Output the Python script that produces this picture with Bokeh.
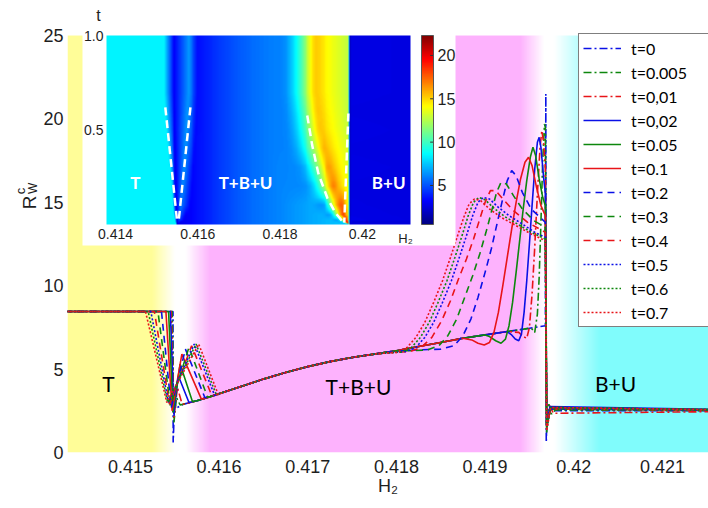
import numpy as np
from bokeh.plotting import figure
from bokeh.layouts import row
from bokeh.models import Range1d, FixedTicker, Legend, LegendItem, LinearColorMapper
from bokeh.core.properties import value
from bokeh.embed import file_html
from bokeh.resources import INLINE

# ---------------------------------------------------------------- data
T_VALUES = [0.0, 0.005, 0.01, 0.02, 0.05, 0.1, 0.2, 0.3, 0.4, 0.5, 0.6, 0.7]
T_LABELS = ["t=0", "t=0.005", "t=0,01", "t=0,02", "t=0.05", "t=0.1",
            "t=0.2", "t=0.3", "t=0.4", "t=0.5", "t=0.6", "t=0.7"]

# branch shared by all profiles inside T+B+U
H2_MID = [0.41560, 0.41575, 0.41590, 0.41610, 0.41630, 0.41650, 0.41675, 0.41700,
          0.41725, 0.41750, 0.41775, 0.41800, 0.41825, 0.41850, 0.41875, 0.41900,
          0.41925, 0.41950, 0.41968]
R_MID = [2.9, 3.1, 3.35, 3.7, 4.05, 4.4, 4.8, 5.15, 5.45, 5.7, 5.9, 6.1, 6.35,
         6.6, 6.85, 7.05, 7.25, 7.45, 7.6]

# T plateau and the T / T+B+U transition, one list per instant
LEFT_H2 = [
    [0.4140, 0.41548, 0.415482, 0.415495],
    [0.4140, 0.41547, 0.41549, 0.41552, 0.41556],
    [0.4140, 0.41546, 0.41549, 0.41553, 0.41558],
    [0.4140, 0.41545, 0.41549, 0.41554, 0.41566],
    [0.4140, 0.41543, 0.41548, 0.41556, 0.41570],
    [0.4140, 0.41540, 0.41547, 0.41558, 0.41580],
    [0.4140, 0.41535, 0.41546, 0.41562, 0.41584],
    [0.4140, 0.41531, 0.41545, 0.41566, 0.41587],
    [0.4140, 0.41527, 0.41544, 0.41569, 0.41592],
    [0.4140, 0.41523, 0.41543, 0.41572, 0.41595],
    [0.4140, 0.41520, 0.41542, 0.41574, 0.41597],
    [0.4140, 0.41517, 0.41541, 0.41577, 0.41599],
]
LEFT_R = [
    [8.45, 8.45, 0.6, 2.6],
    [8.45, 8.45, 1.8, 3.3, 2.85],
    [8.45, 8.45, 2.1, 3.9, 2.95],
    [8.45, 8.45, 2.3, 4.6, 3.0],
    [8.45, 8.45, 2.4, 5.3, 3.05],
    [8.45, 8.45, 2.5, 5.9, 3.2],
    [8.45, 8.45, 2.7, 6.2, 3.28],
    [8.45, 8.45, 2.8, 6.3, 3.32],
    [8.45, 8.45, 2.9, 6.4, 3.38],
    [8.45, 8.45, 3.0, 6.5, 3.42],
    [8.45, 8.45, 3.0, 6.5, 3.45],
    [8.45, 8.45, 3.0, 6.5, 3.48],
]

# peak near the T+B+U / B+U boundary and the B+U plateau, one list per instant
RIGHT_H2 = [
    [0.419685, 0.41969, 0.41970, 0.4225],
    [0.41953, 0.41956, 0.41959, 0.41961, 0.41963, 0.41965, 0.41967, 0.41968,
     0.419695, 0.41972, 0.41975, 0.41979, 0.4225],
    [0.41938, 0.41943, 0.41947, 0.41950, 0.41953, 0.41956, 0.41959, 0.41962, 0.41964,
     0.41966, 0.41968, 0.419695, 0.41973, 0.41977, 0.4225],
    [0.41930, 0.41934, 0.41938, 0.41941, 0.41944, 0.41947, 0.41950, 0.41953, 0.41956,
     0.41959, 0.41961, 0.41963, 0.41966, 0.41968, 0.419695, 0.41973, 0.4225],
    [0.41905, 0.41912, 0.41918, 0.41923, 0.41927, 0.41931, 0.41935, 0.41939, 0.41943,
     0.41947, 0.41951, 0.41954, 0.41957, 0.41961, 0.41965, 0.41968, 0.419695, 0.41974, 0.4225],
    [0.41885, 0.41892, 0.41899, 0.41905, 0.41910, 0.41915, 0.41920, 0.41925, 0.41930,
     0.41935, 0.41940, 0.41945, 0.41949, 0.41953, 0.41958, 0.41963, 0.41968,
     0.419695, 0.41974, 0.4225],
    [0.41825, 0.41850, 0.41865, 0.41875, 0.41884, 0.41892, 0.41900, 0.41907, 0.41913,
     0.41919, 0.41925, 0.41930, 0.41935, 0.41942, 0.41952, 0.41968, 0.419695, 0.41974, 0.4225],
    [0.41815, 0.41835, 0.41848, 0.41858, 0.41868, 0.41877, 0.41886, 0.41894, 0.41901,
     0.41907, 0.41913, 0.41918, 0.41924, 0.41932, 0.41942, 0.41955, 0.41968,
     0.419695, 0.41974, 0.4225],
    [0.41795, 0.41815, 0.41828, 0.41840, 0.41851, 0.41861, 0.41870, 0.41879, 0.41887,
     0.41894, 0.41900, 0.41906, 0.41912, 0.41920, 0.41932, 0.41948, 0.41968,
     0.419695, 0.41974, 0.4225],
    [0.41795, 0.41810, 0.41822, 0.41832, 0.41842, 0.41852, 0.41862, 0.41871, 0.41879,
     0.41886, 0.41892, 0.41898, 0.41905, 0.41915, 0.41927, 0.41942, 0.41956, 0.41968,
     0.419695, 0.41974, 0.4225],
    [0.41790, 0.41805, 0.41817, 0.41827, 0.41837, 0.41847, 0.41857, 0.41866, 0.41874,
     0.41881, 0.41887, 0.41893, 0.41900, 0.41910, 0.41922, 0.41938, 0.41954, 0.41968,
     0.419695, 0.41974, 0.4225],
    [0.41785, 0.41800, 0.41812, 0.41822, 0.41832, 0.41842, 0.41852, 0.41861, 0.41869,
     0.41876, 0.41882, 0.41888, 0.41895, 0.41905, 0.41918, 0.41935, 0.41952, 0.41968,
     0.419695, 0.41974, 0.4225],
]
RIGHT_R = [
    [21.5, 0.6, 2.5, 2.5],
    [7.4, 7.2, 8.3, 10.5, 13.8, 17.5, 19.7, 19.5, 1.2, 2.9, 2.3, 2.55, 2.5],
    [7.2, 6.95, 6.85, 7.5, 9.5, 12.3, 15.5, 18.3, 19.3, 18.6, 17.0, 1.4, 2.8, 2.35, 2.5],
    [7.05, 6.8, 6.7, 7.1, 8.4, 10.3, 12.5, 14.8, 17.0, 18.6, 18.9, 18.3, 16.5, 15.5,
     1.6, 2.75, 2.5],
    [6.95, 6.7, 6.55, 6.8, 7.6, 9.0, 10.8, 12.7, 14.6, 16.3, 17.7, 18.3, 17.8, 16.4,
     15.3, 14.8, 1.5, 2.7, 2.5],
    [6.75, 6.55, 6.45, 6.6, 7.2, 8.4, 10.0, 11.7, 13.4, 15.0, 16.4, 17.4, 17.7, 17.2,
     15.9, 14.8, 14.2, 1.7, 2.65, 2.5],
    [6.15, 6.2, 6.4, 7.0, 8.0, 9.3, 10.8, 12.2, 13.6, 15.0, 16.3, 16.9, 16.6, 15.6,
     14.6, 13.8, 1.8, 2.6, 2.5],
    [6.1, 6.15, 6.4, 7.0, 8.0, 9.3, 10.6, 11.9, 13.2, 14.4, 15.6, 16.2, 16.1, 15.4,
     14.6, 13.9, 13.5, 1.5, 2.7, 2.5],
    [6.0, 6.05, 6.3, 6.9, 7.9, 9.1, 10.4, 11.6, 12.8, 14.0, 15.0, 15.7, 15.7, 15.2,
     14.5, 13.8, 13.2, 1.6, 2.6, 2.5],
    [6.0, 6.05, 6.3, 6.9, 7.8, 9.0, 10.3, 11.7, 13.0, 14.2, 15.0, 15.3, 15.2, 14.7,
     14.2, 13.7, 13.2, 12.9, 1.4, 2.7, 2.5],
    [5.97, 6.02, 6.3, 6.9, 7.8, 9.0, 10.3, 11.7, 13.0, 14.2, 15.0, 15.3, 15.15, 14.65,
     14.15, 13.65, 13.15, 12.8, 1.5, 2.6, 2.5],
    [5.95, 6.0, 6.3, 6.9, 7.8, 9.0, 10.3, 11.7, 13.0, 14.1, 14.9, 15.2, 15.1, 14.6,
     14.1, 13.6, 13.1, 12.7, 1.3, 2.7, 2.5],
]

# phase boundaries along H2
T_EDGE = 0.41552
U_EDGE = 0.41970

# boundaries marked in the (H2, t) map
BOUND_A_H2 = [0.41521, 0.41550]
BOUND_A_T = [0.62, 0.01]
BOUND_B_H2 = [0.41582, 0.41553]
BOUND_B_T = [0.62, 0.01]
BOUND_C_H2 = [0.41866, 0.41878, 0.41893, 0.41915, 0.41935, 0.41954]
BOUND_C_T = [0.577, 0.42, 0.27, 0.14, 0.06, 0.01]
BOUND_D_H2 = [0.41966, 0.41956]
BOUND_D_T = [0.587, 0.01]

X_TICKS = [0.415, 0.416, 0.417, 0.418, 0.419, 0.42, 0.421]
X_TICK_LABELS = ["0.415", "0.416", "0.417", "0.418", "0.419", "0.42", "0.421"]
Y_TICKS = [0, 5, 10, 15, 20, 25]
INSET_X_TICKS = [0.414, 0.416, 0.418, 0.42]
INSET_X_LABELS = ["0.414", "0.416", "0.418", "0.42"]
INSET_T_TICKS = [0.5, 1.0]
INSET_T_LABELS = ["0.5", "1.0"]
CB_TICKS = [5, 10, 15, 20]
CB_LABELS = ["5", "10", "15", "20"]

# ---------------------------------------------------------------- layout
W, H = 708, 508
STRIP = 40                 # narrow panel holding the rotated y title
LEFT, BOTTOM = 67, 56      # page position of the plotting frame
FRAME_W, FRAME_H = W - LEFT, H - BOTTOM
X0, X1 = 0.41429, 0.42152
Y1 = 27.1
IN_X0, IN_X1 = 0.41378, 0.42117
CB_LOW, CB_HIGH = 0.5, 22.3


def mx(px):
    return X0 + (px - LEFT) / FRAME_W * (X1 - X0)


def my(py):
    return Y1 * (1 - py / FRAME_H)


def profile(i):
    lx, ly = LEFT_H2[i], LEFT_R[i]
    rx, ry = RIGHT_H2[i], RIGHT_R[i]
    mid = [(h, r) for h, r in zip(H2_MID, R_MID) if lx[-1] < h < rx[0]]
    return (lx + [m[0] for m in mid] + rx, ly + [m[1] for m in mid] + ry)


def jet(n=256):
    s = np.linspace(0, 1, n)
    r = np.clip(1.5 - np.abs(4 * s - 3), 0, 1)
    g = np.clip(1.5 - np.abs(4 * s - 2), 0, 1)
    b = np.clip(1.5 - np.abs(4 * s - 1), 0, 1)
    return ["#%02x%02x%02x" % (int(round(255 * a)), int(round(255 * c)), int(round(255 * d)))
            for a, c, d in zip(r, g, b)]


p = figure(width=W - STRIP, height=H, x_range=Range1d(X0, X1), y_range=Range1d(0, Y1),
           output_backend="svg", toolbar_location=None, title=None,
           min_border_left=LEFT - STRIP, min_border_right=0, min_border_top=0,
           min_border_bottom=BOTTOM)
p.outline_line_color = None
p.grid.visible = False
p.background_fill_color = "white"
p.border_fill_color = "white"

for ax in (p.xaxis, p.yaxis):
    ax.axis_line_color = None
    ax.major_tick_line_color = None
    ax.minor_tick_line_color = None
    ax.major_tick_out = 0
    ax.major_tick_in = 0
    ax.minor_tick_out = 0
    ax.major_label_text_font = "Liberation Sans"
    ax.major_label_text_font_size = "18px"
    ax.major_label_text_color = "#1e1e1e"

p.xaxis.ticker = FixedTicker(ticks=X_TICKS)
p.xaxis.major_label_overrides = dict(zip(X_TICKS, X_TICK_LABELS))
p.xaxis.major_label_standoff = 7
p.xaxis.axis_label = "H₂"
p.xaxis.axis_label_text_font = "Liberation Sans"
p.xaxis.axis_label_text_font_size = "18px"
p.xaxis.axis_label_text_font_style = "normal"
p.xaxis.axis_label_text_color = "#1e1e1e"
p.xaxis.axis_label_standoff = 0
p.yaxis.ticker = FixedTicker(ticks=Y_TICKS)
p.yaxis.major_label_standoff = 4

# ---------------------------------------------------------------- phase bands
YELLOW = (255, 253, 152)
PINK = (253, 178, 253)
CYAN = (128, 252, 252)
WHITE = (255, 255, 255)
stops = [X0, T_EDGE - 0.00028, T_EDGE - 0.00002, T_EDGE + 0.00010, T_EDGE + 0.00038,
         U_EDGE - 0.00030, U_EDGE - 0.00003, U_EDGE + 0.00008, U_EDGE + 0.00060, X1]
stop_cols = [YELLOW, YELLOW, WHITE, WHITE, PINK, PINK, WHITE, WHITE, CYAN, CYAN]
nb = 900
bx = np.linspace(X0, X1, nb)
band = np.empty((1, nb), dtype=np.uint32)
bv = band.view(dtype=np.uint8).reshape((1, nb, 4))
for ch in range(3):
    bv[0, :, ch] = np.round(np.interp(bx, stops, [c[ch] for c in stop_cols])).astype(np.uint8)
bv[0, :, 3] = 255
p.image_rgba(image=[band], x=X0, y=0, dw=X1 - X0, dh=25)

# ---------------------------------------------------------------- profiles
BLUE, GREEN, RED = "#0a10e6", "#0d870d", "#e81418"
colors = [BLUE, GREEN, RED] * 4
dashes = ["8 3 2 3"] * 3 + ["solid"] * 3 + ["7 5"] * 3 + ["2 2"] * 3
renderers = []
for i in range(len(T_VALUES)):
    xs, ys = profile(i)
    r = p.line(xs, ys, line_color=colors[i], line_width=1.6, line_dash=dashes[i])
    renderers.append(r)

txt = dict(text_font=value("Lato"), text_font_size="21px", text_color="black",
           text_align="center", text_baseline="middle")
p.text(x=[mx(108), mx(358), mx(615)], y=[my(383), my(386), my(383)],
       text=["T", "T+B+U", "B+U"], **txt)

# ---------------------------------------------------------------- inset map
p.quad(left=mx(82), right=mx(455), bottom=my(245), top=my(0),
       fill_color="white", line_color=None)

cmap = LinearColorMapper(palette=jet(), low=CB_LOW, high=CB_HIGH)
inset = p.subplot(x_source=Range1d(IN_X0, IN_X1), y_source=Range1d(0, 1),
                  x_target=Range1d(mx(106), mx(410)), y_target=Range1d(my(224), my(35)))

ncol, nrow = 320, 200
hx = np.linspace(IN_X0, IN_X1, ncol)
ht = np.linspace(0, 1, nrow)
stack = np.array([np.interp(hx, *profile(i)) for i in range(len(T_VALUES))])
field = np.empty((nrow, ncol))
for j in range(ncol):
    field[:, j] = np.interp(ht, T_VALUES, stack[:, j])
inset.image(image=[field], x=IN_X0, y=0, dw=IN_X1 - IN_X0, dh=1, color_mapper=cmap)

for bxs, bts in ((BOUND_A_H2, BOUND_A_T), (BOUND_B_H2, BOUND_B_T),
                 (BOUND_C_H2, BOUND_C_T), (BOUND_D_H2, BOUND_D_T)):
    inset.line(bxs, bts, line_color="white", line_width=2.5, line_dash="8 5")

inset.text(x=[0.41448, 0.41716, 0.42064], y=[0.22, 0.22, 0.22],
           text=["T", "T+B+U", "B+U"], text_font=value("Lato"), text_font_size="17px",
           text_font_style="bold", text_color="white", text_align="center",
           text_baseline="middle")

small = dict(text_font=value("Liberation Sans"), text_color="#1e1e1e")
inset.text(x=INSET_X_TICKS, y=[0] * len(INSET_X_TICKS), text=INSET_X_LABELS,
           y_offset=4, text_align="center", text_baseline="top", text_font_size="14px", **small)
inset.text(x=[IN_X0] * 2, y=INSET_T_TICKS, text=INSET_T_LABELS, x_offset=-3,
           text_align="right", text_baseline="middle", text_font_size="14px", **small)
inset.text(x=[IN_X0], y=[1.0], text=["t"], x_offset=-8, y_offset=-20,
           text_align="center", text_baseline="middle", text_font_size="16px", **small)
inset.text(x=[IN_X1], y=[0], text=["H₂"], x_offset=-5, y_offset=6,
           text_align="center", text_baseline="top", text_font_size="13px", **small)

# colour scale of the map
cb = p.subplot(x_source=Range1d(0, 1), y_source=Range1d(CB_LOW, CB_HIGH),
               x_target=Range1d(mx(421), mx(433)), y_target=Range1d(my(224), my(35)))
cb.image(image=[np.linspace(CB_LOW, CB_HIGH, 256).reshape(256, 1)], x=0, y=CB_LOW,
         dw=1, dh=CB_HIGH - CB_LOW, color_mapper=cmap)
cb.segment(x0=[0.72] * 4, x1=[1.0] * 4, y0=CB_TICKS, y1=CB_TICKS, line_color="#333333", line_width=1)
cb.quad(left=0, right=1, bottom=CB_LOW, top=CB_HIGH, fill_color=None,
        line_color="#555555", line_width=1)
cb.text(x=[1.0] * 4, y=CB_TICKS, text=CB_LABELS, x_offset=4, text_align="left",
        text_baseline="middle", text_font_size="16px", **small)

# ---------------------------------------------------------------- legend
legend = Legend(items=[LegendItem(label=l, renderers=[r]) for l, r in zip(T_LABELS, renderers)],
                location=(578 - LEFT, FRAME_H - 35 - 292))
legend.label_text_font = "Lato"
legend.label_text_font_size = "16px"
legend.label_text_color = "black"
legend.glyph_width = 38
legend.glyph_height = 20
legend.label_height = 20
legend.label_width = 100
legend.label_standoff = 10
legend.spacing = 4
legend.padding = 4
legend.margin = 0
legend.border_line_color = "black"
legend.border_line_width = 1
legend.background_fill_color = "white"
legend.background_fill_alpha = 1.0
p.add_layout(legend)

# ---------------------------------------------------------------- y title strip
q = figure(width=STRIP, height=H, x_range=Range1d(0, STRIP), y_range=Range1d(0, H),
           output_backend="svg", toolbar_location=None, title=None,
           x_axis_location=None, y_axis_location=None,
           min_border_left=0, min_border_right=0, min_border_top=0, min_border_bottom=0)
q.outline_line_color = None
q.grid.visible = False
q.background_fill_color = "white"
q.border_fill_color = "white"
ylab = dict(angle=np.pi / 2, text_align="center", text_baseline="middle",
            text_font=value("Liberation Sans"), text_color="#1e1e1e")
q.text(x=[29], y=[H - 227], text=["R"], text_font_size="19px", **ylab)
q.text(x=[20], y=[H - 214], text=["c"], text_font_size="13px", **ylab)
q.text(x=[32], y=[H - 211], text=["W"], text_font_size="12px", **ylab)

layout = row(q, p, spacing=0)
open("out.html", "w").write(file_html(layout, INLINE))
